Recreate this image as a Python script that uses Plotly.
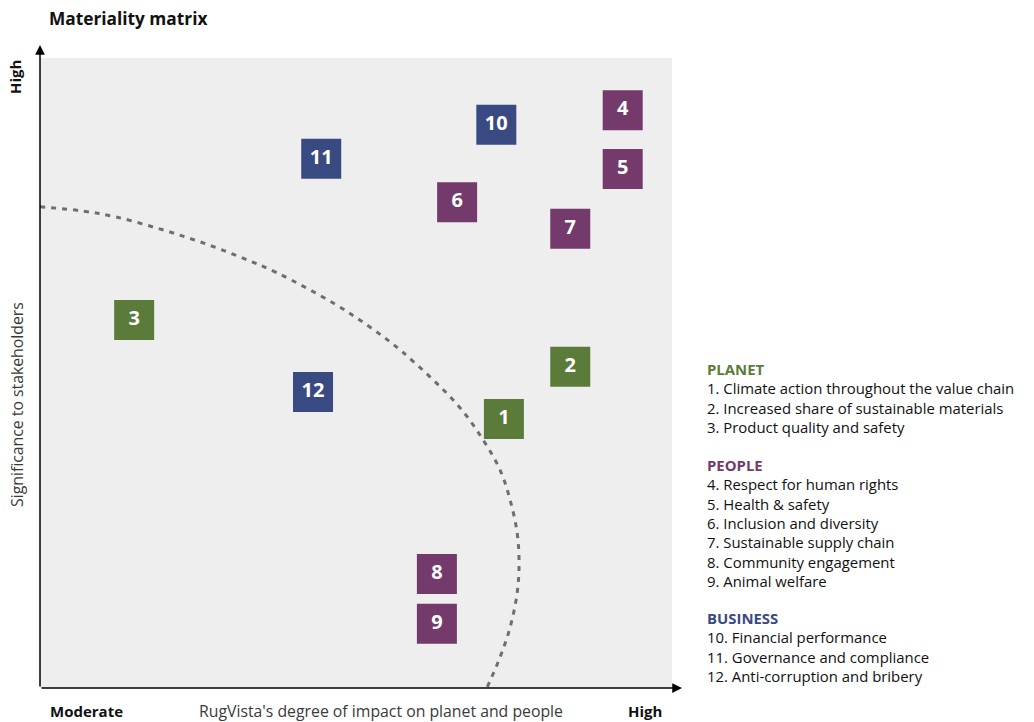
import plotly.graph_objects as go

# ---- data ----
ids = ["1", "2", "3", "4", "5", "6", "7", "8", "9", "10", "11", "12"]
category = ["PLANET", "PLANET", "PLANET", "PEOPLE", "PEOPLE", "PEOPLE", "PEOPLE",
            "PEOPLE", "PEOPLE", "BUSINESS", "BUSINESS", "BUSINESS"]
impact = [7.34, 8.39, 1.49, 9.22, 9.22, 6.60, 8.39, 6.28, 6.28, 7.22, 4.45, 4.32]
significance = [4.27, 5.10, 5.84, 9.17, 8.24, 7.71, 7.29, 1.81, 1.02, 8.94, 8.40, 4.70]

# materiality threshold curve
curve_x = [0.0, 0.68, 1.19, 1.85, 2.48, 3.12, 3.75, 4.64, 5.22, 5.74, 6.61,
           7.01, 7.28, 7.44, 7.55, 7.58, 7.55, 7.44, 7.28, 7.07]
curve_y = [7.64, 7.57, 7.48, 7.30, 7.10, 6.86, 6.59, 6.11, 5.73, 5.33, 4.49,
           3.94, 3.46, 2.98, 2.46, 1.98, 1.51, 0.97, 0.49, 0.0]

planet_items = ["1. Climate action throughout the value chain",
                "2. Increased share of sustainable materials",
                "3. Product quality and safety"]
people_items = ["4. Respect for human rights", "5. Health & safety",
                "6. Inclusion and diversity", "7. Sustainable supply chain",
                "8. Community engagement", "9. Animal welfare"]
business_items = ["10. Financial performance", "11. Governance and compliance",
                  "12. Anti-corruption and bribery"]

colors = {"PLANET": "#5b7b3a", "PEOPLE": "#743a6c", "BUSINESS": "#394a82"}
FONT = "Open Sans"

fig = go.Figure()

fig.add_trace(go.Scatter(
    x=curve_x, y=curve_y, mode="lines", line=dict(color="#6e6e6e", width=3, dash="5px,6px",
                                                  shape="spline", smoothing=1.0),
    hoverinfo="skip", showlegend=False))

fig.add_trace(go.Scatter(
    x=impact, y=significance, mode="markers+text",
    marker=dict(symbol="square", size=40, color=[colors[c] for c in category],
                line=dict(width=0)),
    text=["<b>" + t + "</b>" for t in ids], textposition="middle center",
    textfont=dict(family=FONT, size=20, color="white"),
    cliponaxis=False, showlegend=False))

W, H = 1034, 722
L, R, T, B = 40, 362, 58, 34

fig.update_layout(
    width=W, height=H, margin=dict(l=L, r=R, t=T, b=B),
    paper_bgcolor="white", plot_bgcolor="#eeeeee",
    xaxis=dict(range=[0, 10], showgrid=False, zeroline=False, showticklabels=False,
               ticks="", showline=False, fixedrange=True),
    yaxis=dict(range=[0, 10], showgrid=False, zeroline=False, showticklabels=False,
               ticks="", showline=False, fixedrange=True),
    font=dict(family=FONT, color="#222222"),
)

pw, ph = W - L - R, H - T - B


def px(xp):
    return (xp - L) / pw


def py(yp):
    return (H - B - yp) / ph


ann = []
# axis arrows
ann.append(dict(xref="paper", yref="paper", x=0, y=py(45), ax=0, ay=H - B - 45,
                axref="pixel", ayref="pixel", showarrow=True, arrowhead=2,
                arrowsize=1.3, arrowwidth=1.5, arrowcolor="black", text=""))
ann.append(dict(xref="paper", yref="paper", x=px(682), y=0, ax=-(682 - L), ay=0,
                showarrow=True, arrowhead=2, arrowsize=1.3, arrowwidth=1.5,
                arrowcolor="black", text=""))

ann.append(dict(xref="paper", yref="paper", x=px(47), y=py(18), xanchor="left",
                yanchor="middle", showarrow=False, text="<b>Materiality matrix</b>",
                font=dict(size=17.3, color="#111111")))
ann.append(dict(xref="paper", yref="paper", x=px(15), y=py(77), xanchor="center",
                yanchor="middle", showarrow=False, text="<b>High</b>", textangle=-90,
                font=dict(size=15, color="#111111")))
ann.append(dict(xref="paper", yref="paper", x=px(17), y=py(405), xanchor="center",
                yanchor="middle", showarrow=False, text="Significance to stakeholders",
                textangle=-90, font=dict(size=15.8, color="#3a3a3a")))
ann.append(dict(xref="paper", yref="paper", x=px(48), y=py(711), xanchor="left",
                yanchor="middle", showarrow=False, text="<b>Moderate</b>",
                font=dict(size=15, color="#111111")))
ann.append(dict(xref="paper", yref="paper", x=px(381), y=py(711), xanchor="center",
                yanchor="middle", showarrow=False,
                text="RugVista's degree of impact on planet and people",
                font=dict(size=15.8, color="#3a3a3a")))
ann.append(dict(xref="paper", yref="paper", x=px(664), y=py(711), xanchor="right",
                yanchor="middle", showarrow=False, text="<b>High</b>",
                font=dict(size=15, color="#111111")))


def block(title, items, color, ytop):
    txt = "<b><span style='color:%s'>%s</span></b><br>" % (color, title) + "<br>".join(items)
    ann.append(dict(xref="paper", yref="paper", x=px(706), y=py(ytop), xanchor="left",
                    yanchor="top", align="left", showarrow=False, text=txt, borderpad=0,
                    font=dict(size=14.9, color="#111111")))


block("PLANET", planet_items, colors["PLANET"], 358)
block("PEOPLE", people_items, colors["PEOPLE"], 453.5)
block("BUSINESS", business_items, colors["BUSINESS"], 607)

fig.update_layout(annotations=ann)
fig.write_html("out.html", post_script="document.body.style.margin='0';",
               config={"displayModeBar": False})
